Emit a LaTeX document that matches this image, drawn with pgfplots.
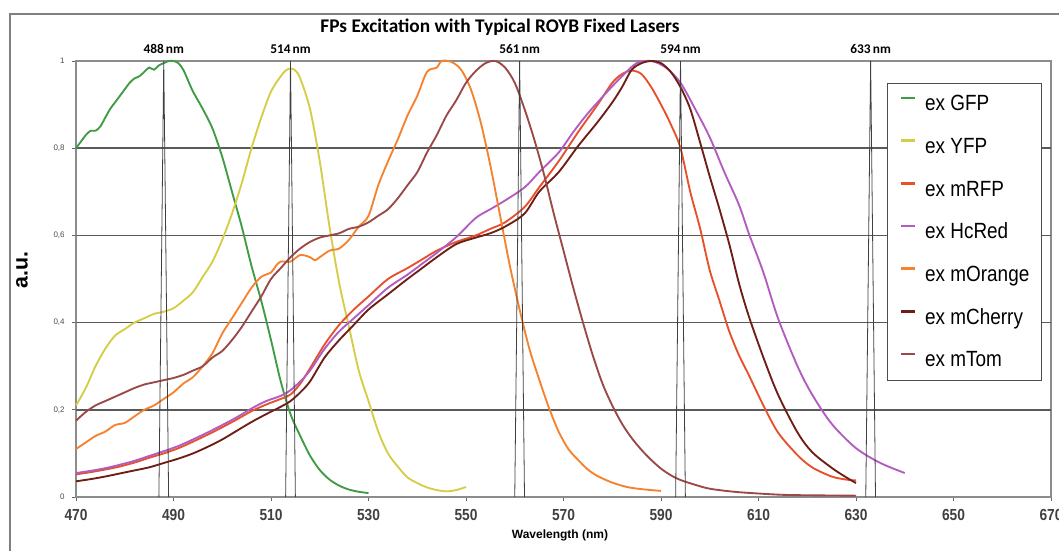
\documentclass[border=0pt]{standalone}
\usepackage{fontspec}
\setmainfont{Carlito}
\newfontfamily\arialfont{Liberation Sans}
\newfontfamily\narrowfont[FakeStretch=0.86]{Liberation Sans}
\usepackage{pgfplots}
\pgfplotsset{compat=1.18}

\definecolor{cGFP}{HTML}{3F9C45}
\definecolor{cYFP}{HTML}{D4CD48}
\definecolor{cRFP}{HTML}{E8502C}
\definecolor{cHcRed}{HTML}{B25CC0}
\definecolor{cOrange}{HTML}{F5822F}
\definecolor{cCherry}{HTML}{6E1E14}
\definecolor{cTom}{HTML}{9A4848}
\definecolor{gridc}{HTML}{5A5A5A}
% strut for legend rows
\newcommand\ls{\rule[-4pt]{0pt}{16pt}}

\begin{document}
\begin{tikzpicture}
\useasboundingbox (0,0) rectangle (794.25pt,413.25pt);
% outer chart frame (cropped at right and bottom)
\draw[black!50, line width=1.2pt] (7.5pt,0pt) -- (7.5pt,402.75pt) -- (794.25pt,402.75pt);

\begin{axis}[
    at={(57pt,40.5pt)}, anchor=south west,
    scale only axis,
    width=731.25pt, height=327pt,
    xmin=470, xmax=670, ymin=0, ymax=1,
    xtick={470,490,...,670},
    ytick={0,0.2,0.4,0.6,0.8,1},
    extra y ticks={0.2,0.4,0.6,0.8},
    extra y tick labels={},
    extra y tick style={grid=major, major tick length=0pt},
    grid style={draw=gridc, line width=1.1pt},
    xtick pos=lower, ytick pos=left,
    tick align=outside, major tick length=3pt,
    tick style={draw=black!60, line width=0.6pt},
    axis line style={draw=black!45, line width=0.9pt},
    yticklabel style={font=\arialfont\fontsize{6}{6}\selectfont, text=black!70, xshift=-2pt},
    xticklabel style={font=\narrowfont\bfseries\fontsize{12}{12}\selectfont, text=black!75, yshift=-3pt},
    /pgf/number format/use comma,
    /pgf/number format/assume math mode=true,
    clip=false,
    legend style={
        at={(rel axis cs:0.8318,0.9495)}, anchor=north west,
        draw=black!70, line width=0.8pt, fill=white,
        inner xsep=9pt, inner ysep=8.5pt,
        font=\narrowfont\fontsize{16.5}{16.5}\selectfont,
        nodes={inner sep=0pt},
        row sep=18.5pt, column sep=6.75pt,
    },
    legend cell align=left,
    legend image code/.code={\draw[mark repeat=2,mark phase=2,#1,line width=2pt] plot coordinates {(0pt,4.5pt) (5.25pt,4.5pt) (10.5pt,4.5pt)};},
    every axis plot/.append style={line width=1.4pt},
]

% GFP
\addplot[cGFP, smooth] coordinates {
(470,0.80)(471,0.815)(472,0.83)(473,0.84)(474,0.84)(475,0.85)(476,0.87)(477,0.89)
(478,0.905)(479,0.92)(480,0.935)(481,0.95)(482,0.96)(483,0.965)(484,0.975)(485,0.985)
(486,0.98)(487,0.99)(488,0.995)(489,1.0)(490,1.0)(491,0.995)(492,0.98)(493,0.955)
(494,0.93)(496,0.89)(498,0.845)(500,0.78)(502,0.70)(504,0.62)(506,0.53)(508,0.45)
(510,0.36)(512,0.265)(514,0.19)(516,0.14)(518,0.095)(520,0.062)(522,0.04)(524,0.026)
(526,0.017)(528,0.012)(530,0.009)
};
\addlegendentry{\ls ex GFP}

% YFP
\addplot[cYFP, smooth] coordinates {
(470,0.21)(472,0.25)(474,0.30)(476,0.34)(478,0.37)(480,0.385)(482,0.40)(484,0.41)
(486,0.42)(488,0.425)(490,0.433)(492,0.45)(494,0.47)(496,0.505)(498,0.54)(500,0.59)
(502,0.65)(504,0.72)(506,0.80)(508,0.87)(510,0.93)(512,0.965)(513,0.978)(514,0.983)
(515,0.978)(516,0.96)(518,0.89)(520,0.77)(522,0.62)(524,0.49)(526,0.39)(528,0.29)
(530,0.22)(532,0.15)(534,0.10)(536,0.07)(538,0.045)(540,0.032)(542,0.022)(544,0.016)
(546,0.013)(548,0.016)(550,0.023)
};
\addlegendentry{\ls ex YFP}

% mRFP
\addplot[cRFP, smooth] coordinates {
(470,0.052)(473,0.057)(476,0.063)(479,0.07)(482,0.079)(485,0.09)(488,0.10)(491,0.112)
(494,0.127)(497,0.143)(500,0.16)(503,0.178)(506,0.197)(509,0.212)(512,0.225)(514,0.235)
(516,0.26)(518,0.295)(521,0.35)(524,0.395)(527,0.43)(530,0.46)(534,0.50)(538,0.525)
(541,0.545)(544,0.565)(548,0.585)(552,0.60)(555,0.615)(558,0.63)(562,0.665)(565,0.71)
(569,0.77)(573,0.837)(577,0.90)(580,0.95)(582,0.97)(584,0.978)(586,0.97)(588,0.94)
(590,0.90)(592,0.855)(594,0.80)(596,0.70)(598,0.617)(600,0.52)(602,0.45)(604,0.38)
(606,0.325)(608,0.28)(611,0.21)(614,0.148)(618,0.096)(621,0.068)(625,0.047)(628,0.04)
(630,0.038)
};
\addlegendentry{\ls ex mRFP}

% HcRed
\addplot[cHcRed, smooth] coordinates {
(470,0.055)(473,0.06)(476,0.066)(479,0.074)(482,0.083)(485,0.094)(488,0.105)(491,0.117)
(494,0.132)(497,0.148)(500,0.165)(503,0.183)(506,0.203)(509,0.22)(512,0.232)(514,0.245)
(516,0.265)(518,0.29)(521,0.34)(524,0.38)(527,0.41)(530,0.44)(534,0.48)(538,0.51)
(541,0.535)(544,0.56)(548,0.596)(552,0.64)(555,0.66)(558,0.68)(562,0.71)(565,0.745)
(569,0.79)(572,0.837)(575,0.88)(579,0.93)(582,0.965)(585,0.995)(588,1.0)(591,0.985)
(594,0.95)(597,0.89)(600,0.825)(603,0.745)(606,0.67)(608,0.605)(611,0.515)(614,0.41)
(618,0.30)(621,0.235)(625,0.168)(630,0.112)(635,0.078)(640,0.055)
};
\addlegendentry{\ls ex HcRed}

% mOrange
\addplot[cOrange, smooth] coordinates {
(470,0.11)(472,0.125)(474,0.14)(476,0.15)(478,0.165)(480,0.17)(482,0.185)(484,0.20)
(486,0.21)(488,0.225)(490,0.24)(492,0.26)(494,0.275)(496,0.30)(498,0.33)(500,0.375)
(502,0.41)(504,0.445)(506,0.48)(508,0.505)(510,0.515)(511,0.53)(512,0.54)(514,0.54)
(516,0.555)(518,0.55)(519,0.543)(520,0.55)(522,0.565)(524,0.57)(526,0.59)(528,0.62)
(530,0.645)(532,0.715)(534,0.77)(536,0.82)(538,0.875)(540,0.92)(542,0.975)(544,0.985)
(545,1.0)(547,0.998)(549,0.98)(551,0.935)(553,0.86)(555,0.76)(557,0.645)(559,0.53)
(561,0.43)(563,0.34)(565,0.27)(567,0.205)(569,0.15)(571,0.11)(573,0.085)(575,0.063)
(577,0.048)(580,0.033)(583,0.023)(586,0.018)(590,0.014)
};
\addlegendentry{\ls ex mOrange}

% mCherry
\addplot[cCherry, smooth] coordinates {
(470,0.036)(473,0.041)(476,0.047)(479,0.054)(482,0.061)(485,0.068)(488,0.078)(491,0.088)
(494,0.10)(497,0.115)(500,0.132)(503,0.152)(506,0.172)(509,0.19)(512,0.207)(514,0.22)
(516,0.24)(518,0.265)(521,0.32)(524,0.36)(527,0.395)(530,0.43)(534,0.465)(538,0.50)
(541,0.525)(544,0.55)(548,0.58)(552,0.595)(555,0.605)(558,0.62)(562,0.65)(565,0.70)
(569,0.745)(573,0.805)(577,0.86)(580,0.905)(582,0.94)(584,0.98)(586,0.995)(588,1.0)
(590,0.995)(592,0.975)(594,0.94)(596,0.89)(598,0.814)(600,0.735)(602,0.66)(604,0.58)
(606,0.49)(608,0.415)(611,0.32)(614,0.235)(618,0.148)(621,0.103)(625,0.067)(628,0.045)
(630,0.032)
};
\addlegendentry{\ls ex mCherry}

% mTom
\addplot[cTom, smooth] coordinates {
(470,0.175)(472,0.195)(474,0.21)(476,0.22)(478,0.23)(480,0.24)(482,0.25)(484,0.258)
(486,0.263)(488,0.268)(490,0.273)(492,0.28)(494,0.29)(496,0.30)(498,0.32)(500,0.335)
(502,0.36)(504,0.39)(506,0.425)(508,0.46)(510,0.50)(512,0.525)(514,0.55)(516,0.57)
(518,0.585)(520,0.595)(522,0.60)(524,0.605)(526,0.615)(528,0.62)(530,0.63)(532,0.645)
(534,0.66)(536,0.685)(538,0.715)(540,0.745)(542,0.79)(544,0.83)(546,0.875)(548,0.91)
(550,0.95)(552,0.977)(554,0.995)(556,1.0)(558,0.985)(560,0.95)(562,0.89)(564,0.82)
(566,0.74)(568,0.65)(570,0.565)(572,0.48)(574,0.40)(576,0.325)(578,0.26)(580,0.21)
(582,0.168)(584,0.135)(586,0.108)(588,0.085)(590,0.065)(592,0.05)(594,0.039)(597,0.028)
(600,0.019)(605,0.012)(610,0.008)(615,0.005)(620,0.004)(630,0.003)
};
\addlegendentry{\ls ex mTom}

% laser lines
\addplot[forget plot, black!75, line width=0.6pt] coordinates {(487,0)(488,1)(489,0)};
\addplot[forget plot, black!75, line width=0.6pt] coordinates {(513,0)(514,1)(515,0)};
\addplot[forget plot, black!75, line width=0.6pt] coordinates {(560,0)(561,1)(562,0)};
\addplot[forget plot, black!75, line width=0.6pt] coordinates {(593,0)(594,1)(595,0)};
\addplot[forget plot, black!75, line width=0.6pt] coordinates {(632,0)(633,1)(634,0)};

\foreach \w in {488,514,561,594,633}{
  \edef\temp{\noexpand\node[font=\noexpand\bfseries\noexpand\fontsize{10}{10}\noexpand\selectfont, anchor=base, inner sep=0pt] at (axis cs:\w,1) [yshift=6pt] {\w\noexpand\,nm};}
  \temp
}
\end{axis}

\node[font=\bfseries\fontsize{14.5}{14.5}\selectfont, anchor=center] at (375pt,392.5pt) {FPs Excitation with Typical ROYB Fixed Lasers};
\node[font=\arialfont\bfseries\fontsize{9}{9}\selectfont, anchor=center] at (420pt,12pt) {Wavelength (nm)};
\node[font=\arialfont\bfseries\fontsize{16}{16}\selectfont, rotate=90, anchor=center] at (16.5pt,210.75pt) {a.u.};
\end{tikzpicture}
\end{document}
